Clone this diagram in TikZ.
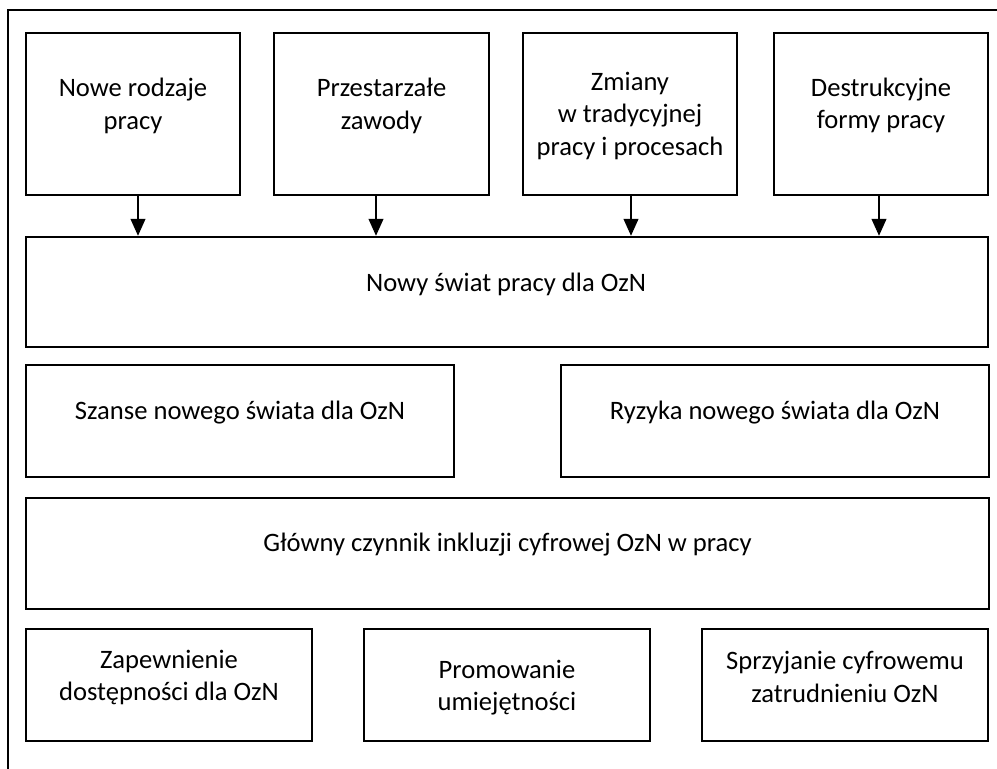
\documentclass[tikz,border=0pt]{standalone}
\usepackage{fontspec}
\setmainfont{Carlito}
\usetikzlibrary{arrows.meta}
\begin{document}
\begin{tikzpicture}[x=1pt,y=-1pt,
  box/.style={draw=black, line width=2.5pt, rectangle, inner sep=0pt, fill=white},
  txt/.style={inner sep=0pt, align=center, font=\fontsize{26.6}{32.5}\selectfont, text=black},
  arr/.style={line width=1.1pt, -{Triangle[length=17pt,width=15pt]}},
  frame/.style={line width=1.5pt}]
\useasboundingbox (0,0) rectangle (997,769);
% outer frame (only top and left edges visible)
\coordinate (fa) at (8,769);
\coordinate (fb) at (8,10);
\coordinate (fc) at (997,10);
\draw[frame] (fa) -- (fb) -- (fc);
% top row boxes
\node[box, minimum width=214pt, minimum height=162pt] (b1) at (133,114) {};
\node[box, minimum width=215pt, minimum height=162pt] (b2) at (381.5,114) {};
\node[box, minimum width=214pt, minimum height=162pt] (b3) at (630,114) {};
\node[box, minimum width=214pt, minimum height=162pt] (b4) at (881,114) {};
\node[txt] (t1) at (133,106) {Nowe rodzaje\\pracy};
\node[txt] (t2) at (381.5,106) {Przestarzałe\\zawody};
\node[txt] (t3) at (630,115.5) {Zmiany\\w tradycyjnej\\pracy i procesach};
\node[txt] (t4) at (881,105.5) {Destrukcyjne\\formy pracy};
% main
\node[box, minimum width=962pt, minimum height=110pt] (main) at (507,292) {};
\node[txt] (tm) at (506,284) {Nowy świat pracy dla OzN};
% arrows
\draw[arr] ([xshift=5pt]b1.south) -- ([xshift=5pt]b1.south |- main.north);
\draw[arr] ([xshift=-5.5pt]b2.south) -- ([xshift=-5.5pt]b2.south |- main.north);
\draw[arr] ([xshift=1pt]b3.south) -- ([xshift=1pt]b3.south |- main.north);
\draw[arr] ([xshift=-2pt]b4.south) -- ([xshift=-2pt]b4.south |- main.north);
% second row
\node[box, minimum width=428pt, minimum height=112pt] (sz) at (240,421) {};
\node[txt] (tsz) at (240,413) {Szanse nowego świata dla OzN};
\node[box, minimum width=428pt, minimum height=112pt] (ry) at (775,421) {};
\node[txt] (try) at (775,413) {Ryzyka nowego świata dla OzN};
% third row
\node[box, minimum width=963pt, minimum height=111pt] (gl) at (507.5,553.5) {};
\node[txt] (tgl) at (507.5,545) {Główny czynnik inkluzji cyfrowej OzN w pracy};
% bottom row
\node[box, minimum width=286pt, minimum height=112pt] (za) at (169,685) {};
\node[txt] (tza) at (169,677.5) {Zapewnienie\\dostępności dla OzN};
\node[box, minimum width=286pt, minimum height=112pt] (pr) at (507,685) {};
\node[txt] (tpr) at (507,687.5) {Promowanie\\umiejętności};
\node[box, minimum width=286pt, minimum height=112pt] (sp) at (845,685) {};
\node[txt] (tsp) at (845,677) {Sprzyjanie cyfrowemu\\zatrudnieniu OzN};
\end{tikzpicture}
\end{document}
